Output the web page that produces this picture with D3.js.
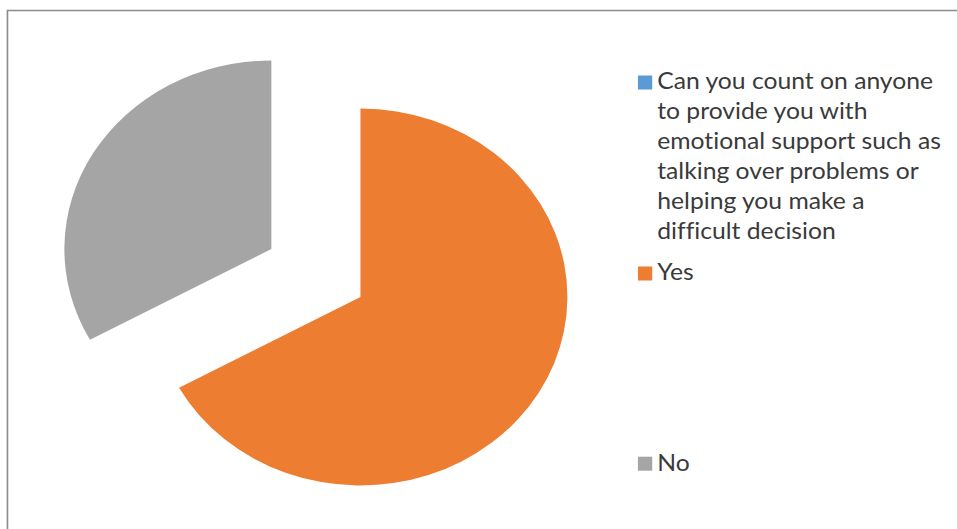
<!DOCTYPE html>
<html>
<head>
<meta charset="utf-8">
<script src="https://cdn.jsdelivr.net/npm/d3@7"></script>
<style>
  html, body { margin: 0; padding: 0; background: #fff; }
  svg { display: block; }
  .legend text { font-family: Lato, "Open Sans", sans-serif; fill: #3a3a3a; font-variant-ligatures: none; }
</style>
</head>
<body>
<svg id="chart" width="957" height="529"></svg>
<script>
// Survey answers (line breaks in the question are where the legend wraps it)
const categories = [
  "Can you count on anyone\nto provide you with\nemotional support such as\ntalking over problems or\nhelping you make a\ndifficult decision",
  "Yes",
  "No"
];
const values = [0, 67, 33];
const colors = ["#5B9BD5", "#ED7D31", "#A5A5A5"];

const W = 957, H = 529;
const stretchX = 1.098;          // the drawing is widened horizontally
const radius = 188.5;
const explode = 0.25;            // slice offset as a share of the radius
const cx = 287.7, cy = 273;

const data = categories.map((c, i) => ({ label: c, value: values[i], color: colors[i] }));

const svg = d3.select("#chart");
const root = svg.append("g").attr("transform", `scale(${stretchX},1)`);

// chart frame
root.append("rect")
  .attr("x", 6.8).attr("y", 10.5)
  .attr("width", 2000).attr("height", 2000)
  .attr("fill", "none")
  .attr("stroke", "#8c8c8c")
  .attr("stroke-width", 1.5);

const pie = d3.pie().sort(null).value(d => d.value);
const arc = d3.arc().innerRadius(0).outerRadius(radius);

const pieG = root.append("g").attr("transform", `translate(${cx},${cy})`);
pieG.selectAll("path")
  .data(pie(data).filter(d => d.data.value > 0))
  .join("path")
  .attr("d", arc)
  .attr("fill", d => d.data.color)
  .attr("transform", d => {
    const mid = (d.startAngle + d.endAngle) / 2;
    const off = explode * radius;
    return `translate(${Math.sin(mid) * off},${-Math.cos(mid) * off})`;
  });

// legend
const legendX = 581, textX = 598.6, lineH = 30, box = 13;
const itemBaselines = [89.5, 280.5, 470.7];
const legend = root.append("g").attr("class", "legend");
data.forEach((d, i) => {
  const y0 = itemBaselines[i];
  legend.append("rect")
    .attr("x", legendX).attr("y", y0 - 14)
    .attr("width", box).attr("height", 14)
    .attr("fill", d.color);
  const t = legend.append("text")
    .attr("x", textX).attr("y", y0)
    .style("font-size", "22.5px");
  d.label.split("\n").forEach((line, k) => {
    t.append("tspan").attr("x", textX).attr("y", y0 + k * lineH).text(line);
  });
});
</script>
</body>
</html>
